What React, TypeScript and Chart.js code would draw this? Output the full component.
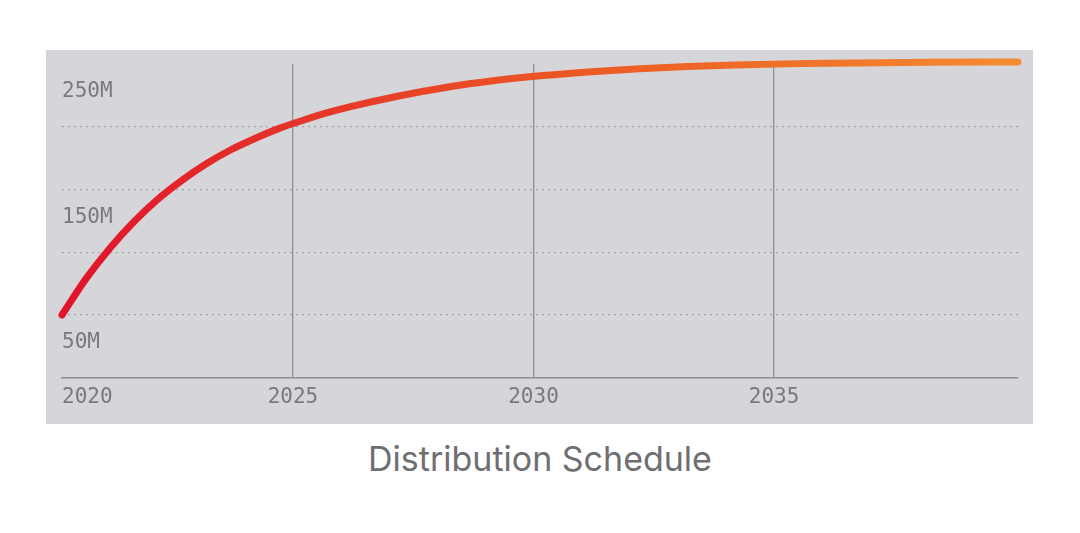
import React, { useEffect, useRef } from "react";
import { Chart, registerables } from "chart.js";

Chart.register(...registerables);

// Data (years as decimal, supply in millions)
const years = [2020.2, 2020.7, 2021.2, 2021.7, 2022.2, 2022.7, 2023.2, 2023.7, 2024.2, 2024.7, 2025.2, 2025.7, 2026.2, 2027.2, 2028.2, 2029.2, 2030.2, 2031.2, 2032.2, 2033.2, 2034.2, 2035.2, 2036.2, 2037.2, 2038.2, 2039.2, 2040.07];
const supplyM = [50, 79, 103.5, 124.5, 142.5, 157.5, 170.5, 181.5, 190.5, 198.5, 205, 211, 216, 224.5, 231.5, 236.8, 240.8, 243.9, 246.3, 248, 249.2, 250.1, 250.6, 251, 251.3, 251.5, 251.6];

const X_MIN = 2020.2;
const X_MAX = 2040.07;
const xTickYears = [2025, 2030, 2035];
const firstXLabel = "2020";
const yLabelValues = [50, 150, 250];
const yGridValues = [50, 100, 150, 200];
const title = "Distribution Schedule";

const MONO = "'DejaVu Sans Mono', monospace";
const LABEL_COLOR = "#78787e";

export default function App() {
  const ref = useRef<HTMLCanvasElement | null>(null);

  useEffect(() => {
    if (!ref.current) return;
    const chart = new Chart(ref.current, {
      type: "line",
      data: {
        datasets: [
          {
            data: years.map((x, i) => ({ x, y: supplyM[i] })),
            borderWidth: 7,
            borderCapStyle: "round",
            borderJoinStyle: "round",
            pointRadius: 0,
            cubicInterpolationMode: "monotone",
            clip: 12,
            borderColor: (ctx: any) => {
              const { chart } = ctx;
              const area = chart.chartArea;
              if (!area) return "#e31b2a";
              const g = chart.ctx.createLinearGradient(area.left, 0, area.right, 0);
              g.addColorStop(0, "#e0142b");
              g.addColorStop(0.25, "#e5352a");
              g.addColorStop(0.5, "#eb5424");
              g.addColorStop(0.75, "#f07028");
              g.addColorStop(1, "#f48c32");
              return g;
            },
          } as any,
        ],
      },
      options: {
        animation: false,
        responsive: true,
        maintainAspectRatio: false,
        layout: { padding: { left: 16, right: 15, top: 14, bottom: 7 } },
        plugins: { legend: { display: false }, tooltip: { enabled: false }, title: { display: false } },
        scales: {
          x: {
            type: "linear",
            min: X_MIN,
            max: X_MAX,
            afterBuildTicks: (scale: any) => {
              scale.ticks = [{ value: X_MIN }, ...xTickYears.map((v) => ({ value: v })), { value: X_MAX }];
            },
            grid: {
              drawTicks: false,
              lineWidth: 1.3,
              color: (ctx: any) => (ctx.tick && xTickYears.includes(ctx.tick.value) ? "#8e8e94" : "rgba(0,0,0,0)"),
            },
            border: { display: true, color: "#8e8e94", width: 1.5 },
            ticks: {
              align: "inner",
              padding: 7,
              autoSkip: false,
              maxRotation: 0,
              color: LABEL_COLOR,
              font: { family: MONO, size: 21 },
              callback: (value: any, index: number) => {
                if (index === 0) return firstXLabel;
                return xTickYears.includes(value) ? String(value) : "";
              },
            },
          },
          y: {
            type: "linear",
            min: 0,
            max: 250,
            afterBuildTicks: (scale: any) => {
              scale.ticks = [0, 50, 100, 150, 200, 250].map((v) => ({ value: v }));
            },
            grid: {
              drawTicks: false,
              lineWidth: 1.2,
              color: (ctx: any) => (ctx.tick && yGridValues.includes(ctx.tick.value) ? "#a2a2a8" : "rgba(0,0,0,0)"),
            },
            border: { display: false, dash: [2, 4] },
            ticks: {
              mirror: true,
              padding: 0,
              labelOffset: 28,
              autoSkip: false,
              color: LABEL_COLOR,
              font: { family: MONO, size: 21 },
              callback: (value: any) => (yLabelValues.includes(value) ? `${value}M` : ""),
            },
          },
        },
      } as any,
    });
    return () => chart.destroy();
  }, []);

  return (
    <div style={{ position: "absolute", left: 0, top: 0, width: 1080, height: 533, background: "#ffffff" }}>
      <div style={{ position: "absolute", left: 46, top: 50, width: 987, height: 374, background: "#d6d6da" }}>
        <canvas ref={ref} />
      </div>
      <div
        style={{
          position: "absolute",
          left: 0,
          top: 439,
          width: 1080,
          textAlign: "center",
          fontFamily: "Inter, 'Noto Sans', sans-serif",
          fontSize: 34,
          color: "#6e6e73",
          lineHeight: "40px",
        }}
      >
        {title}
      </div>
    </div>
  );
}
